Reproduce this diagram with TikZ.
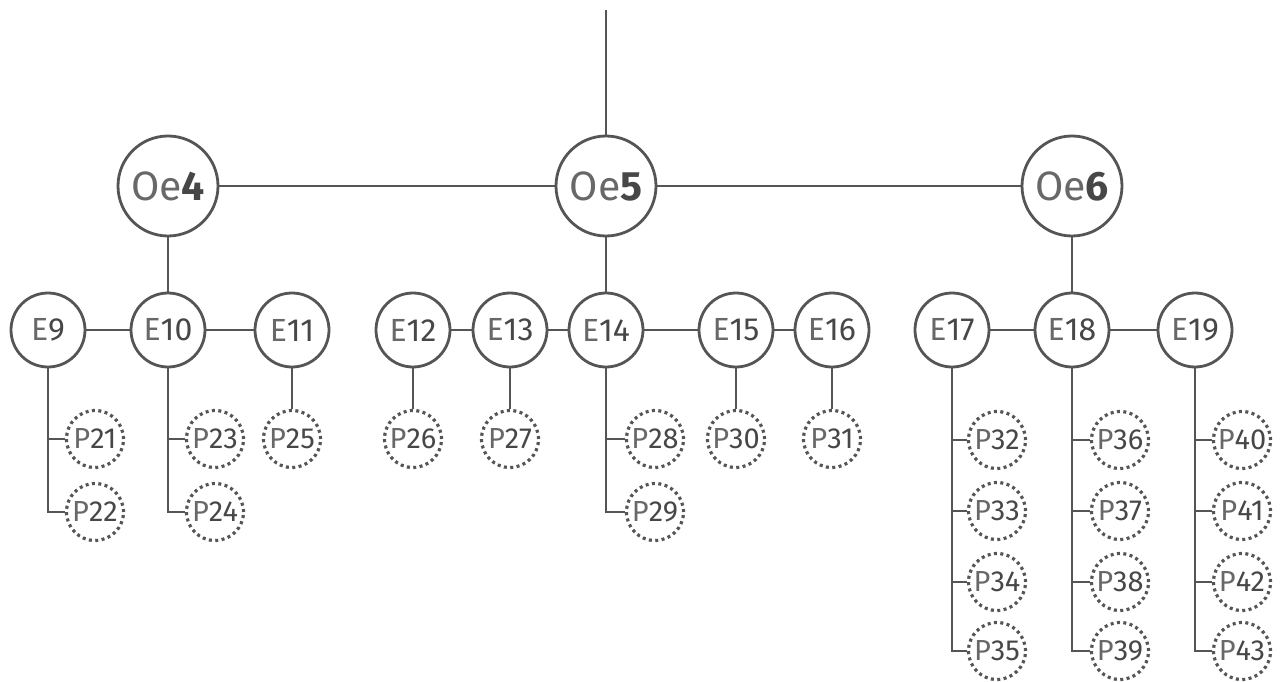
\documentclass[tikz,border=0pt]{standalone}
\usepackage{fontspec}
\setmainfont{Fira Sans}
\newcommand\lt{\relax}
\definecolor{lc}{HTML}{555555}
\definecolor{tc}{HTML}{474747}
\definecolor{lt}{HTML}{686868}
\begin{document}
\begin{tikzpicture}[x=1pt,y=-1pt,
  oe/.style={circle,draw=lc,line width=2.8pt,minimum size=100pt,inner sep=0pt,text=tc,font=\fontsize{41}{44}\selectfont},
  en/.style={circle,draw=lc,line width=2.8pt,minimum size=74pt,inner sep=0pt,text=tc,font=\fontsize{32}{35}\selectfont},
  pn/.style={circle,draw=lc,line width=3.2pt,dash pattern=on 3pt off 3.4pt,minimum size=57pt,inner sep=0pt,text=tc,font=\fontsize{29}{31}\selectfont},
  conn/.style={draw=lc,line width=2pt}]
\useasboundingbox (0,0) rectangle (1283,682);
% level 1
\node[oe] (oe4) at (168,186) {{\lt\color{lt}Oe}\textbf{4}};
\node[oe] (oe5) at (606,186) {{\lt\color{lt}Oe}\textbf{5}};
\node[oe] (oe6) at (1072,186) {{\lt\color{lt}Oe}\textbf{6}};
\coordinate (top) at (606,10);
% level 2
\foreach \n/\x in {9/48,10/168,11/292,12/413,13/510,14/606,15/736,16/832,17/952,18/1072,19/1195}
  \node[en] (e\n) at (\x,330) {{\lt\color{lt}E}\n};
% level 3
\foreach \n/\x/\y in {21/95/439,22/95/512,23/215/439,24/215/512,25/292/439,26/413/439,27/510/439,28/655/439,29/655/512,30/736/439,31/832/439,
  32/997/440,33/997/511,34/997/582,35/997/651,36/1120/440,37/1120/511,38/1120/582,39/1120/651,40/1242/440,41/1242/511,42/1242/582,43/1242/651}
  \node[pn] (p\n) at (\x,\y) {{\lt\color{lt}P}\n};
% connectors
\draw[conn] (top) -- (oe5);
\draw[conn] (oe4) -- (oe5);
\draw[conn] (oe5) -- (oe6);
\draw[conn] (oe4) -- (e10);
\draw[conn] (oe5) -- (e14);
\draw[conn] (oe6) -- (e18);
\draw[conn] (e9) -- (e10);
\draw[conn] (e10) -- (e11);
\draw[conn] (e12) -- (e13);
\draw[conn] (e13) -- (e14);
\draw[conn] (e14) -- (e15);
\draw[conn] (e15) -- (e16);
\draw[conn] (e17) -- (e18);
\draw[conn] (e18) -- (e19);
% brackets
\draw[conn] (e9) |- (p22); \draw[conn] (e9 |- p21) -- (p21);
\draw[conn] (e10) |- (p24); \draw[conn] (e10 |- p23) -- (p23);
\draw[conn] (e11) -- (p25);
\draw[conn] (e12) -- (p26);
\draw[conn] (e13) -- (p27);
\draw[conn] (e14) |- (p29); \draw[conn] (e14 |- p28) -- (p28);
\draw[conn] (e15) -- (p30);
\draw[conn] (e16) -- (p31);
\draw[conn] (e17) |- (p35);
\foreach \p in {32,33,34} \draw[conn] (e17 |- p\p) -- (p\p);
\draw[conn] (e18) |- (p39);
\foreach \p in {36,37,38} \draw[conn] (e18 |- p\p) -- (p\p);
\draw[conn] (e19) |- (p43);
\foreach \p in {40,41,42} \draw[conn] (e19 |- p\p) -- (p\p);
\end{tikzpicture}
\end{document}
